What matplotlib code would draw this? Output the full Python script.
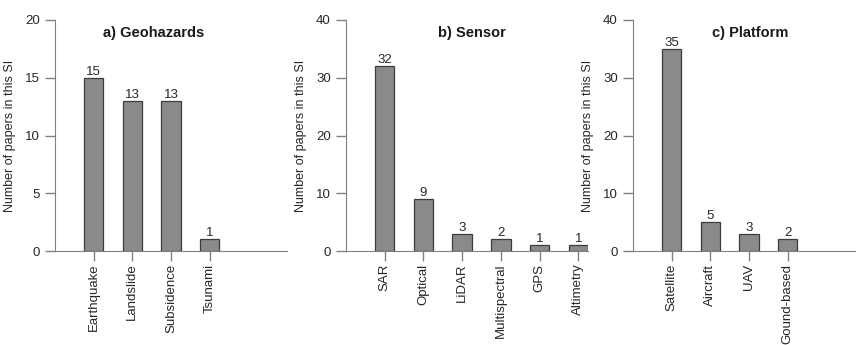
import matplotlib
matplotlib.use('Agg')
import matplotlib.pyplot as plt

plt.rcParams['font.family'] = ['Liberation Sans', 'DejaVu Sans']

hazards = ['Earthquake', 'Landslide', 'Subsidence', 'Tsunami']
hazard_counts = [15, 13, 13, 1]

sensors = ['SAR', 'Optical', 'LiDAR', 'Multispectral', 'GPS', 'Altimetry']
sensor_counts = [32, 9, 3, 2, 1, 1]

platforms = ['Satellite', 'Aircraft', 'UAV', 'Gound-based']
platform_counts = [35, 5, 3, 2]

titles = ['a) Geohazards', 'b) Sensor', 'c) Platform']
ymaxes = [20, 40, 40]
ysteps = [5, 10, 10]

W, H = 856, 345
fig = plt.figure(figsize=(W / 100, H / 100), dpi=100)

grey = '#808080'
txt = '#262626'
bar_face = '#8a8a8a'
bar_edge = '#3c3c3c'

# axes boxes in pixels: left, right, xlim right end, title x (data units)
panels = [
    (55, 287, 5.0, 1.56),
    (346, 588, 5.25, 2.26),
    (633, 856, 4.77, 2.04),
]
bottom_px, top_px = 251, 20

data = [(hazards, hazard_counts), (sensors, sensor_counts), (platforms, platform_counts)]

for i, ((cats, vals), (l, r, xr, tx)) in enumerate(zip(data, panels)):
    ax = fig.add_axes([l / W, (H - bottom_px) / H, (r - l) / W, (bottom_px - top_px) / H])
    xs = list(range(len(cats)))
    bars = ax.bar(xs, vals, width=0.5, color=bar_face, edgecolor=bar_edge, linewidth=0.9)
    ax.bar_label(bars, labels=[str(v) for v in vals], padding=0, fontsize=9.5, color=txt)
    ax.set_xlim(-1, xr)
    ax.set_ylim(0, ymaxes[i])
    ax.set_yticks(range(0, ymaxes[i] + 1, ysteps[i]))
    ax.set_xticks(xs)
    ax.set_xticklabels(cats, rotation=90, fontsize=9.5, color=txt)
    ax.tick_params(axis='y', labelsize=9.5, labelcolor=txt, color=grey, length=7, width=1, pad=4)
    ax.tick_params(axis='x', color=grey, length=7, width=1, pad=2)
    for s in ['top', 'right']:
        ax.spines[s].set_visible(False)
    ax.spines['left'].set_color(grey)
    ax.spines['bottom'].set_color(grey)
    ax.spines['left'].set_bounds(0, ymaxes[i])
    ax.set_ylabel('Number of papers in this SI', fontsize=9, color=txt)
    ax.yaxis.set_label_coords(-39 / (r - l), 0.5)
    ax.text(tx, ymaxes[i] * 0.944, titles[i], ha='center', va='center',
            fontsize=10.5, fontweight='bold', color='#1a1a1a')
    ax.patch.set_alpha(0)

fig.savefig('out.png', dpi=100)
